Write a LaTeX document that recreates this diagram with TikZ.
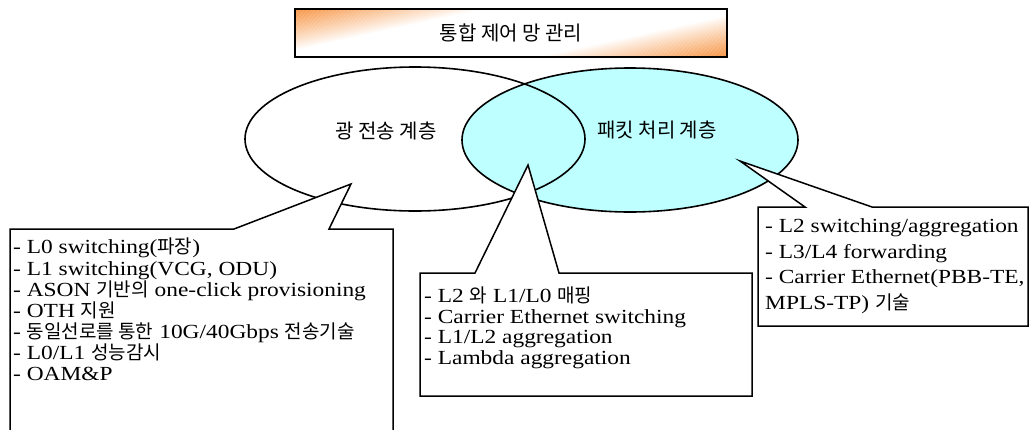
\documentclass[tikz,border=0pt]{standalone}
\usepackage{fontspec}
\setmainfont{Liberation Serif}[FakeStretch=1.17]
\newfontfamily\krf{Noto Sans CJK KR}
\newcommand\hk[1]{{\krf\fontsize{19}{19}\selectfont #1}}
\definecolor{pcyan}{RGB}{190,255,255}
\definecolor{tor}{RGB}{247,150,70}
\begin{document}
\begin{tikzpicture}[x=1pt,y=-1pt,
  outl/.style={draw=black, line width=1.6pt},
  callout/.style={draw=black, line width=1.5pt, fill=white, line join=miter},
  boxtext/.style={anchor=north west, align=left, inner sep=0pt},
  krlabel/.style={font=\krf\fontsize{20}{24}\selectfont, inner sep=0pt}]
\useasboundingbox (0,0) rectangle (1030,429);
\clip (0,0) rectangle (1030,429);
% layers (ellipses)
\fill[pcyan] (630,140) ellipse [x radius=168, y radius=72];
\draw[outl] (415,139) ellipse [x radius=170, y radius=72];
\draw[outl] (630,140) ellipse [x radius=168, y radius=72];
\node[krlabel] (optical) at (386,131) {광 전송 계층};
\node[krlabel] (packet) at (657,130) {패킷 처리 계층};
% callouts
\coordinate (tipL) at (351,184);
\coordinate (tipM) at (528,165);
\coordinate (tipR) at (740,161);
\draw[callout] (10,229) -- (234,229) -- (tipL) -- (329,229) -- (393,229) -- (393,440) -- (10,440) -- cycle;
\draw[callout] (420,273) -- (475,273) -- (tipM) -- (559,273) -- (752,273) -- (752,396) -- (420,396) -- cycle;
\draw[callout] (758,207) -- (805,207) -- (tipR) -- (872,207) -- (1028,207) -- (1028,326) -- (758,326) -- cycle;
\node[boxtext, font=\fontsize{20}{21.1}\selectfont] (leftText) at (13,238) {%
- L0 switching(\hk{파장})\\
- L1 switching(VCG, ODU)\\
- ASON \hk{기반의} one-click provisioning\\
- OTH \hk{지원}\\
- \hk{동일선로를 통한} 10G/40Gbps \hk{전송기술}\\
- L0/L1 \hk{성능감시}\\
- OAM\&P};
\node[boxtext, font=\fontsize{20}{20.5}\selectfont] (midText) at (424,287) {%
- L2 \hk{와} L1/L0 \hk{매핑}\\
- Carrier Ethernet switching\\
- L1/L2 aggregation\\
- Lambda aggregation};
\node[boxtext, font=\fontsize{20}{25.5}\selectfont] (rightText) at (765,218.5) {%
- L2 switching/aggregation\\
- L3/L4 forwarding\\
- Carrier Ethernet(PBB-TE,\\
MPLS-TP) \hk{기술}};
% title box with diagonal gradient (orange at top-left and bottom-right)
\begin{scope}
\clip (295,9) rectangle (727,57);
\fill[white] (295,9) rectangle (727,57);
\foreach \i in {0,...,49} {
  \pgfmathsetmacro\ca{\i*0.017}
  \pgfmathsetmacro\cb{\ca+0.021}
  \pgfmathsetmacro\pc{100*(1-\ca/0.85)^0.9}
  \fill[tor!\pc!white] (295+220*\ca,9) -- (295+220*\cb,9) -- (295+220*\cb-220,57) -- (295+220*\ca-220,57) -- cycle;
  \fill[tor!\pc!white] (727-220*\ca,57) -- (727-220*\cb,57) -- (947-220*\cb,9) -- (947-220*\ca,9) -- cycle;
}
\end{scope}
\node[draw=black, line width=1.6pt, minimum width=432, minimum height=48, inner sep=0pt] (titlebox) at (511,33) {};
\node[krlabel] (title) at (titlebox.center) {통합 제어 망 관리};
\end{tikzpicture}
\end{document}
